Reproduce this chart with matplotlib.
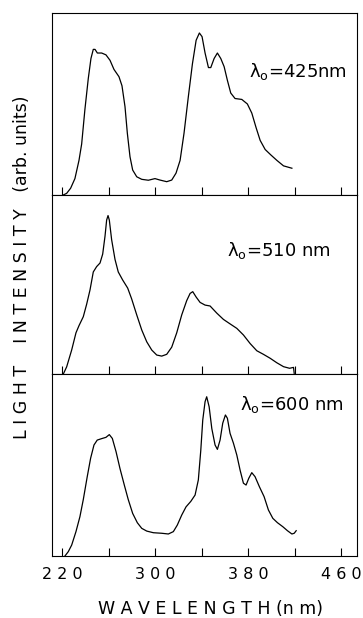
import matplotlib
matplotlib.use("Agg")
import matplotlib.pyplot as plt

# excitation spectra (wavelength nm, intensity arb.)
wl_425 = [220.9, 223.8, 227.2, 230.9, 234.4, 236.7, 239.5, 242.4, 244.7, 246.7, 248.2, 250.2,
          253.9, 257.6, 261.1, 264.5, 268.8, 271.4, 274.0, 276.0, 278.3, 280.6, 284.1, 288.4,
          294.1, 299.8, 304.1, 309.9, 314.2, 317.9, 321.4, 324.8, 328.5, 332.0, 335.2, 338.0,
          340.3, 342.9, 345.8, 347.8, 350.7, 353.5, 356.4, 359.3, 362.1, 365.0, 368.7, 374.5,
          379.3, 383.1, 386.8, 390.3, 394.6, 399.5, 404.7, 410.4, 417.6]
int_425 = [0.0, 0.009, 0.037, 0.09, 0.19, 0.28, 0.47, 0.64, 0.75, 0.80, 0.80, 0.78,
           0.78, 0.77, 0.74, 0.69, 0.65, 0.60, 0.485, 0.34, 0.21, 0.137, 0.10, 0.086,
           0.081, 0.09, 0.082, 0.073, 0.082, 0.12, 0.19, 0.34, 0.54, 0.72, 0.85, 0.89,
           0.87, 0.78, 0.70, 0.70, 0.75, 0.78, 0.75, 0.705, 0.63, 0.56, 0.53, 0.525,
           0.50, 0.45, 0.37, 0.30, 0.25, 0.22, 0.19, 0.16, 0.147]

wl_510 = [220.9, 223.8, 228.1, 231.8, 234.4, 238.1, 241.0, 243.9, 246.7, 249.6, 252.5, 254.8,
          256.8, 258.2, 259.4, 260.5, 262.5, 265.4, 268.2, 272.0, 276.3, 279.7, 284.1, 288.4,
          292.7, 297.0, 301.3, 305.6, 309.9, 314.2, 318.5, 322.8, 327.1, 330.0, 332.3, 335.2,
          338.6, 342.9, 347.2, 353.0, 358.7, 364.4, 370.2, 375.9, 381.7, 387.4, 393.1, 398.9,
          404.6, 410.4, 415.6, 419.0, 419.6]
int_510 = [0.0, 0.04, 0.134, 0.23, 0.27, 0.32, 0.39, 0.47, 0.57, 0.60, 0.62, 0.67,
           0.77, 0.86, 0.885, 0.86, 0.75, 0.64, 0.57, 0.525, 0.48, 0.42, 0.33, 0.246,
           0.18, 0.134, 0.106, 0.10, 0.11, 0.15, 0.23, 0.33, 0.41, 0.45, 0.46, 0.43,
           0.40, 0.385, 0.38, 0.34, 0.305, 0.28, 0.255, 0.218, 0.17, 0.13, 0.11, 0.088,
           0.063, 0.041, 0.032, 0.037, 0.004]

wl_600 = [222.3, 225.2, 228.1, 231.8, 235.2, 238.1, 241.5, 244.4, 247.3, 250.1, 253.9, 257.6,
          260.5, 263.1, 266.3, 269.7, 273.4, 276.8, 280.6, 284.6, 288.4, 292.7, 298.4, 305.6,
          311.3, 315.6, 319.0, 322.8, 326.5, 330.6, 334.3, 337.1, 339.2, 340.9, 342.9, 344.3,
          346.4, 348.7, 351.5, 353.5, 355.8, 358.1, 360.4, 362.1, 364.4, 367.3, 370.2, 373.1,
          375.9, 378.2, 380.5, 383.1, 385.9, 389.7, 393.7, 397.4, 401.2, 405.2, 409.8, 413.8,
          417.6, 419.6, 421.3]
int_600 = [0.0, 0.024, 0.06, 0.134, 0.216, 0.31, 0.436, 0.537, 0.61, 0.637, 0.645, 0.652,
           0.667, 0.646, 0.573, 0.48, 0.39, 0.31, 0.234, 0.183, 0.152, 0.137, 0.128, 0.125,
           0.121, 0.134, 0.17, 0.225, 0.27, 0.30, 0.335, 0.418, 0.58, 0.747, 0.848, 0.875,
           0.82, 0.70, 0.61, 0.586, 0.637, 0.73, 0.775, 0.757, 0.674, 0.62, 0.555, 0.47,
           0.40, 0.39, 0.427, 0.458, 0.436, 0.38, 0.326, 0.253, 0.207, 0.183, 0.161, 0.139,
           0.121, 0.125, 0.139]

panel_labels = ["λ$_\\mathrm{o}$=425nm", "λ$_\\mathrm{o}$=510 nm", "λ$_\\mathrm{o}$=600 nm"]
label_pos = [(381, 0.68), (362, 0.69), (373, 0.83)]
tick_vals = [220, 260, 300, 340, 380, 420, 460]
tick_text = ["2 2 0", "", "3 0 0", "", "3 8 0", "", "4 6 0"]

series = [(wl_425, int_425), (wl_510, int_510), (wl_600, int_600)]

fig = plt.figure(figsize=(3.63, 6.18), dpi=100)
bounds = [(0.6845, 0.2945), (0.3948, 0.2897), (0.1003, 0.2945)]

for i, (x, y) in enumerate(series):
    bottom, height = bounds[i]
    ax = fig.add_axes([0.143, bottom, 0.841, height])
    ax.plot(x, y, color="black", lw=0.9)
    ax.set_xlim(211.1, 473.8)
    ax.set_ylim(0, 1.0)
    ax.set_yticks([])
    ax.set_xticks(tick_vals)
    ax.tick_params(axis="x", direction="in", length=6, width=0.8, top=False)
    if i == 2:
        ax.set_xticklabels(tick_text, fontsize=11.5)
        ax.tick_params(axis="x", pad=8)
    else:
        ax.set_xticklabels([])
    for s in ax.spines.values():
        s.set_linewidth(0.8)
    ax.text(label_pos[i][0], label_pos[i][1], panel_labels[i], fontsize=13,
            ha="left", va="center")

fig.text(0.58, 0.0, "W A V E L E N G T H (n m)", ha="center", va="bottom", fontsize=12.5)
fig.text(0.06, 0.568, "L I G H T    I N T E N S I T Y   (arb. units)", rotation=90,
         ha="center", va="center", fontsize=12.5)

fig.savefig("out.png", dpi=100)
